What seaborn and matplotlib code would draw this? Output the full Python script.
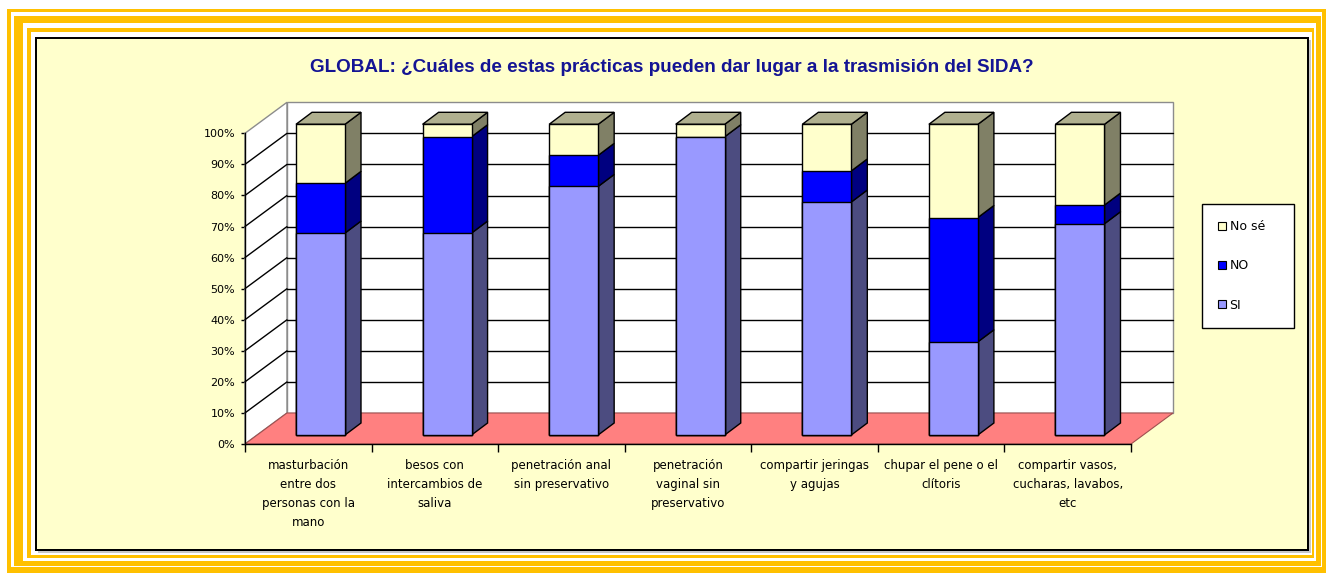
import numpy as np
import pandas as pd
import seaborn as sns
import matplotlib
matplotlib.use("Agg")
import matplotlib.pyplot as plt
from matplotlib.patches import Polygon, Rectangle, Patch

# ---------------------------------------------------------------- data
categories = [
    "masturbación\nentre dos\npersonas con la\nmano",
    "besos con\nintercambios de\nsaliva",
    "penetración anal\nsin preservativo",
    "penetración\nvaginal sin\npreservativo",
    "compartir jeringas\ny agujas",
    "chupar el pene o el\nclítoris",
    "compartir vasos,\ncucharas, lavabos,\netc",
]
si_pct = [65, 65, 80, 96, 75, 30, 68]
no_pct = [16, 31, 10, 0, 10, 40, 6]
nose_pct = [19, 4, 10, 4, 15, 30, 26]
series_names = ["SI", "NO", "No sé"]
tick_values = list(range(0, 101, 10))
tick_labels = [f"{v}%" for v in tick_values]
title = "GLOBAL: ¿Cuáles de estas prácticas pueden dar lugar a la trasmisión del SIDA?"

# ---------------------------------------------------------------- styles
front_colors = {"SI": "#9999FF", "NO": "#0000FF", "No sé": "#FFFFCC"}
side_colors = {"SI": "#4C4C80", "NO": "#000080", "No sé": "#808066"}
top_colors = {"SI": "#6B6BB3", "NO": "#0000B3", "No sé": "#B0B08F"}
GOLD = "#FFC000"
CHART_BG = "#FFFFCC"
FLOOR = "#FF8080"
WALL_EDGE = "#8C8C8C"

sns.set_style("white")
plt.rcParams["font.family"] = ["DejaVu Sans"]
plt.rcParams["text.color"] = "black"
plt.rcParams["xtick.color"] = "black"
plt.rcParams["ytick.color"] = "black"

W, H, DPI = 1326, 573, 100
fig = plt.figure(figsize=(W / DPI, H / DPI), dpi=DPI)
fig.patch.set_facecolor("white")


def frame_rect(x0, y0, x1, y1, color, z):
    """Filled rectangle given in pixels measured from the top-left corner."""
    fig.patches.append(Rectangle((x0 / W, 1 - y1 / H), (x1 - x0) / W, (y1 - y0) / H,
                                 transform=fig.transFigure, facecolor=color,
                                 linewidth=0, zorder=z))


# decorative gold frames around the chart area
frame_rect(7, 9, 1326, 573, GOLD, -20)
frame_rect(11, 12, 1322, 567, "white", -19)
frame_rect(14, 16, 1321, 566, GOLD, -18)
frame_rect(23, 23, 1316, 561, "white", -17)
frame_rect(27, 28, 1314, 558, GOLD, -16)
frame_rect(31, 32, 1312, 555, "white", -15)
frame_rect(38, 40, 1311, 553, "#C8C8C8", -14)
frame_rect(35, 37, 1309, 551, "black", -13)
frame_rect(37, 39, 1307, 549, CHART_BG, -12)

# ---------------------------------------------------------------- axes geometry
CAT_PX = 126.58      # pixels per category
PCT_PX = 3.107       # pixels per percentage point
BAR0_X = 320.5       # pixel x of first bar centre (front face)
BASE_Y = 435.0       # pixel y of bar bottoms (front face)
xlim = (-0.85, 7.0)
ylim = (-7.0, 110.0)
left_px = BAR0_X + xlim[0] * CAT_PX
right_px = BAR0_X + xlim[1] * CAT_PX
bottom_px = BASE_Y - ylim[0] * PCT_PX
top_px = BASE_Y - ylim[1] * PCT_PX
ax = fig.add_axes([left_px / W, 1 - bottom_px / H,
                   (right_px - left_px) / W, (bottom_px - top_px) / H])
ax.set_facecolor("none")

# 3-D offsets in data units
AX_DX, AX_DY = -12.25 / CAT_PX, -9.0 / PCT_PX           # front axis plane
BACK_DX, BACK_DY = AX_DX + 42 / CAT_PX, AX_DY + 31 / PCT_PX   # back wall plane
BAR_DX, BAR_DY = 16 / CAT_PX, 12 / PCT_PX               # bar depth
BAR_W = 49 / CAT_PX

n = len(categories)
xl_front, xr_front = -0.5 + AX_DX, n - 0.5 + AX_DX
xl_back, xr_back = -0.5 + BACK_DX, n - 0.5 + BACK_DX

# walls and floor
ax.add_patch(Polygon([(xl_back, BACK_DY), (xr_back, BACK_DY),
                      (xr_back, 100 + BACK_DY), (xl_back, 100 + BACK_DY)],
                     closed=True, facecolor="white", edgecolor=WALL_EDGE, lw=1, zorder=1))
ax.add_patch(Polygon([(xl_front, AX_DY), (xl_back, BACK_DY),
                      (xl_back, 100 + BACK_DY), (xl_front, 100 + AX_DY)],
                     closed=True, facecolor="white", edgecolor=WALL_EDGE, lw=1, zorder=1))
for v in tick_values[1:-1]:
    ax.plot([xl_back, xr_back], [v + BACK_DY] * 2, color="black", lw=1, zorder=1.5)
    ax.plot([xl_front, xl_back], [v + AX_DY, v + BACK_DY], color="black", lw=1, zorder=1.5)
ax.add_patch(Polygon([(xl_front, AX_DY), (xr_front, AX_DY),
                      (xr_back, BACK_DY), (xl_back, BACK_DY)],
                     closed=True, facecolor=FLOOR, edgecolor="#A05050", lw=0.8, zorder=2))

# ---------------------------------------------------------------- stacked bars
df = pd.DataFrame({"categoria": categories, "SI": si_pct, "NO": no_pct, "No sé": nose_pct})
cum = df[series_names].cumsum(axis=1)
for name in reversed(series_names):
    sns.barplot(data=cum.assign(categoria=df["categoria"]), x="categoria", y=name,
                color=front_colors[name], saturation=1, width=BAR_W, errorbar=None,
                edgecolor="black", linewidth=1, ax=ax, zorder=4)

# side and top faces of each column
for i in range(n):
    bottom = 0.0
    top_name = None
    xr = i + BAR_W / 2
    xl = i - BAR_W / 2
    for name in series_names:
        h = df.loc[i, name]
        if h <= 0:
            continue
        t = bottom + h
        ax.add_patch(Polygon([(xr, bottom), (xr + BAR_DX, bottom + BAR_DY),
                              (xr + BAR_DX, t + BAR_DY), (xr, t)],
                             closed=True, facecolor=side_colors[name],
                             edgecolor="black", lw=1, zorder=3.5))
        bottom = t
        top_name = name
    ax.add_patch(Polygon([(xl, bottom), (xr, bottom),
                          (xr + BAR_DX, bottom + BAR_DY), (xl + BAR_DX, bottom + BAR_DY)],
                         closed=True, facecolor=top_colors[top_name],
                         edgecolor="black", lw=1, zorder=3.5))

# ---------------------------------------------------------------- axes, ticks
ax.set_xlim(xlim)
ax.set_ylim(ylim)
for s in ("top", "right"):
    ax.spines[s].set_visible(False)
ax.spines["left"].set_position(("data", xl_front))
ax.spines["left"].set_bounds(AX_DY, 100 + AX_DY)
ax.spines["bottom"].set_position(("data", AX_DY))
ax.spines["bottom"].set_bounds(xl_front, xr_front)
for s in ("left", "bottom"):
    ax.spines[s].set_color("black")
    ax.spines[s].set_linewidth(1)

ax.set_yticks([v + AX_DY for v in tick_values])
ax.set_yticklabels(tick_labels)
ax.tick_params(axis="y", which="major", direction="out", length=3, width=1,
               color="black", pad=4, labelsize=8, labelcolor="black", left=True)

ax.set_xticks([i - 0.5 + AX_DX for i in range(n + 1)])
ax.set_xticklabels([""] * (n + 1))
ax.set_xticks([i + AX_DX for i in range(n)], minor=True)
ax.set_xticklabels(categories, minor=True, fontsize=8.5, linespacing=1.6,
                   ha="center", va="top", color="black")
ax.tick_params(axis="x", which="major", direction="out", length=6, width=1,
               color="black", bottom=True)
ax.tick_params(axis="x", which="minor", length=0, pad=11, bottom=True,
               labelcolor="black")
ax.set_xlabel("")
ax.set_ylabel("")

# ---------------------------------------------------------------- title and legend
fig.text(672 / W, 1 - 67 / H, title, ha="center", va="center",
         fontsize=13.6, fontweight="bold", color="#141494",
         family=["Liberation Sans", "DejaVu Sans"])

handles = [Patch(facecolor=front_colors[nm], edgecolor="black", linewidth=0.8, label=nm)
           for nm in reversed(series_names)]
leg = fig.legend(handles=handles, loc="upper left",
                 bbox_to_anchor=(1202 / W, 1 - 327 / H, 92 / W, 123 / H),
                 mode="expand", frameon=True, fancybox=False, edgecolor="black",
                 facecolor="white", framealpha=1, fontsize=9, handlelength=0.6,
                 handleheight=0.6, handletextpad=0.3, labelspacing=2.1,
                 borderpad=1.3, borderaxespad=0)
leg.get_frame().set_linewidth(1)
for txt in leg.get_texts():
    txt.set_color("black")

fig.savefig("out.png", dpi=DPI, facecolor=fig.get_facecolor())
